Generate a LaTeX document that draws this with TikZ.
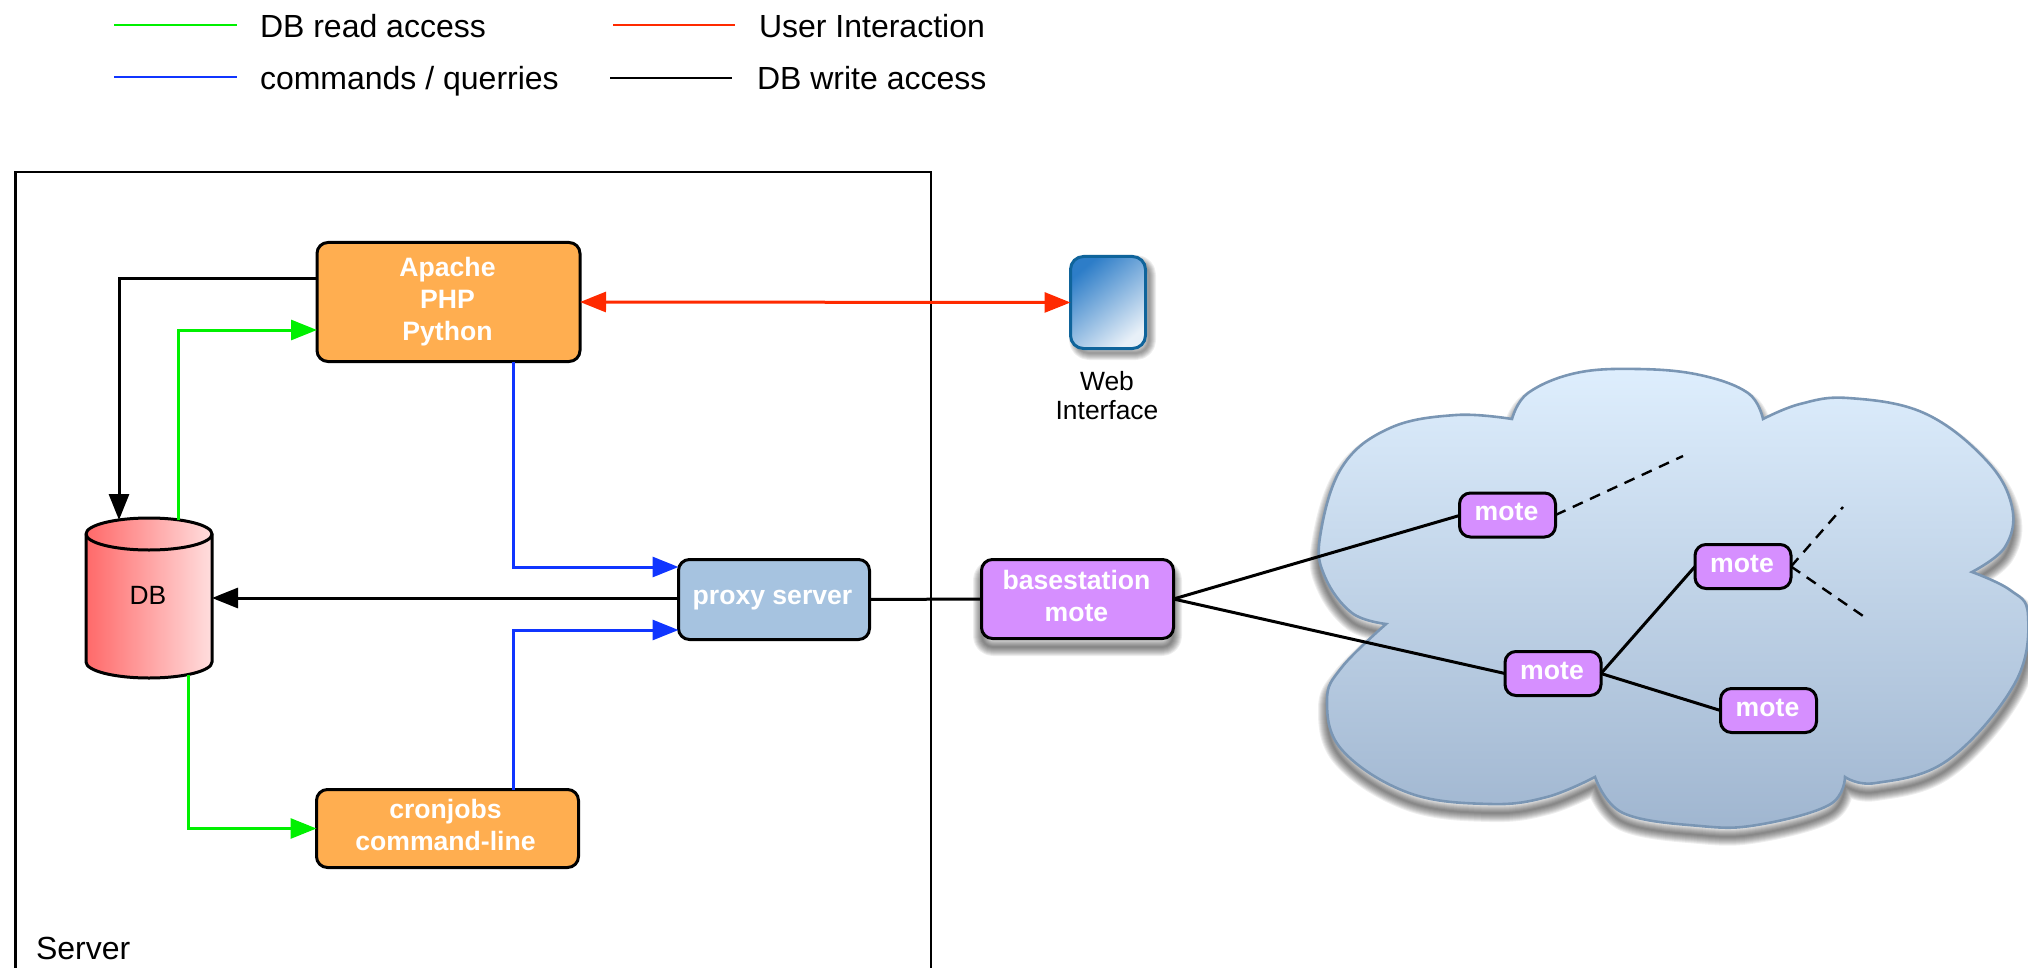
\documentclass[tikz,border=0pt]{standalone}
\usepackage{fontspec}
\setmainfont{Liberation Sans}
\usetikzlibrary{arrows.meta,calc}
\definecolor{cgreen}{HTML}{00F000}
\definecolor{cblue}{HTML}{1035FF}
\definecolor{cred}{HTML}{FF2A00}
\definecolor{corange}{HTML}{FFAE50}
\definecolor{cproxy}{HTML}{A6C3E0}
\definecolor{cmote}{HTML}{D68FFF}
\definecolor{cloudedge}{HTML}{7A96B4}
\newcommand{\softshadow}[3]{%
  \begin{scope}[shift={#1}]
    \foreach \w in {#3}
      \draw[black,draw opacity=0.065,line width=\w pt,line join=round] #2;
  \end{scope}}
\newcommand{\cloudpath}{(1512,419) -- plot[smooth,tension=0.65] coordinates {(1512,419)(1528,393)(1576,373)(1638,369)(1700,375)(1748,393)(1763,419)}
 -- plot[smooth,tension=0.65] coordinates {(1763,419)(1800,404)(1848,398)(1924,413)(1986,460)(2012,507)(2005,547)(1972,572)}
 -- plot[smooth,tension=0.65] coordinates {(1972,572)(2010,590)(2028,615)(2015,683)(1948,760)(1876,783)(1845,777)}
 -- plot[smooth,tension=0.65] coordinates {(1845,777)(1829,805)(1757,825)(1700,826)(1623,813)(1595,777)}
 -- plot[smooth,tension=0.65] coordinates {(1595,777)(1547,797)(1490,804)(1409,793)(1342,750)(1327,700)(1342,667)(1386,624)}
 -- plot[smooth,tension=0.65] coordinates {(1386,624)(1352,613)(1325,577)(1320,537)(1342,467)(1390,428)(1456,415)(1512,419)} -- cycle}
\tikzset{
  plain/.style={font=\fontsize{26.4}{29}\selectfont,align=center,inner sep=0pt,outer sep=0pt,text=black},
  bigtext/.style={font=\fontsize{32}{36}\selectfont,inner sep=0pt,outer sep=0pt,text=black,anchor=base west},
  boxtext/.style={align=center,inner sep=0pt,outer sep=0pt,text=white,font=\fontsize{26.6}{32}\selectfont\bfseries},
  boxbase/.style={draw=black,line width=3pt,rounded corners=11pt,inner sep=0pt,outer sep=0pt},
  orangebox/.style={boxbase,fill=corange},
  proxybox/.style={boxbase,fill=cproxy,minimum width=191pt,minimum height=80pt},
  motebox/.style={boxbase,fill=cmote,minimum width=96pt,minimum height=44pt,
    label={[boxtext,xshift=-1pt,yshift=3pt]center:mote}},
  conn/.style={line width=3pt},
  legendline/.style={line width=2.4pt},
  arrowc/.style={conn,-{Triangle[length=26pt,width=20pt]}},
  dashc/.style={line width=2.4pt,dash pattern=on 11pt off 8pt},
}
\begin{document}
\begin{tikzpicture}[x=1pt,y=-1pt]
\useasboundingbox (0,0) rectangle (2028,968);
% legend
\coordinate (l1a) at (114,25); \coordinate (l1b) at (237,25);
\coordinate (l2a) at (613,25); \coordinate (l2b) at (735,25);
\coordinate (l3a) at (114,77); \coordinate (l3b) at (237,77);
\coordinate (l4a) at (610,78); \coordinate (l4b) at (732,78);
\draw[legendline,cgreen] (l1a) -- (l1b);
\draw[legendline,cred] (l2a) -- (l2b);
\draw[legendline,cblue] (l3a) -- (l3b);
\draw[legendline,black] (l4a) -- (l4b);
\node[bigtext] (t1) at (260,37.5) {DB read access};
\node[bigtext] (t2) at (759,37.5) {User Interaction};
\node[bigtext] (t3) at (260,89.5) {commands / querries};
\node[bigtext] (t4) at (757,89.5) {DB write access};
% server frame
\draw[line width=2.6pt,black] (15.5,968) -- (15.5,172) -- (931,172) -- (931,968);
\node[bigtext] (server) at (36,959) {Server};
% cloud
\softshadow{(0,9)}{\cloudpath}{18,16,14,12,10,8,6,4,2}
\path[draw=cloudedge,line width=2.6pt,
  top color={rgb,255:red,222;green,238;blue,253},bottom color={rgb,255:red,160;green,182;blue,208}] \cloudpath;
% DB
\node[minimum width=126pt,minimum height=160pt,inner sep=0pt,outer sep=0pt] (dbshape) at (149,598) {};
\path[draw=black,line width=3pt,left color={rgb,255:red,255;green,105;blue,105},right color={rgb,255:red,255;green,222;blue,222}]
  (86,534) -- (86,662) arc[start angle=180,end angle=0,x radius=63,y radius=16] -- (212,534) arc[start angle=0,end angle=-180,x radius=63,y radius=16] -- cycle;
\draw[black,line width=3pt] (86,534) arc[start angle=180,end angle=0,x radius=63,y radius=16];
\node[plain] (db) at (148,595.5) {DB};
% boxes
\node[orangebox,minimum width=263pt,minimum height=119pt,
  label={[boxtext,xshift=-1pt]center:{Apache\\PHP\\Python}}] (apache) at (448.5,302) {};
\node[orangebox,minimum width=262pt,minimum height=78pt,
  label={[boxtext,xshift=-2pt,yshift=4pt]center:{cronjobs\\command-line}}] (cron) at (447.5,828.5) {};
\node[proxybox,label={[boxtext,xshift=-1.5pt,yshift=-1pt]center:proxy server}] (proxy) at (774,599.5) {};
% web
\softshadow{(4,5)}{[rounded corners=13pt] (1072,257) rectangle (1145,348)}{14,12,10,8,6,4,2}
\node[minimum width=75pt,minimum height=92pt,inner sep=0pt,outer sep=0pt,rounded corners=13pt,draw={rgb,255:red,15;green,100;blue,155},line width=3pt,
  left color={rgb,255:red,45;green,125;blue,200},right color={rgb,255:red,232;green,240;blue,248},shading angle=40] (web) at (1108,302.5) {};
\node[plain,anchor=north] (weblabel) at (1107,371) {Web\\Interface};
% basestation
\softshadow{(0,9)}{[rounded corners=11pt] (982,560) rectangle (1173,638)}{18,16,14,12,10,8,6,4,2}
\node[boxbase,fill=cmote,minimum width=192pt,minimum height=79pt,
  label={[boxtext,xshift=-1pt,yshift=3pt]center:{basestation\\mote}}] (base) at (1077.5,599) {};
% motes
\node[motebox] (m1) at (1507.5,515) {};
\node[motebox] (m2) at (1743,566.5) {};
\node[motebox] (m3) at (1553,673.5) {};
\node[motebox] (m4) at (1768.5,710.5) {};
\coordinate (d1) at (1683,456);
\coordinate (d2) at (1843,507);
\coordinate (d3) at (1866,618);
% connectors
\draw[arrowc,black] ([yshift=24pt]apache.west) -| ([xshift=-30pt,yshift=-2pt]dbshape.north);
\draw[arrowc,cgreen] ([xshift=29.5pt,yshift=-2pt]dbshape.north) |- ([yshift=-28pt]apache.west);
\draw[arrowc,cgreen] ([xshift=39pt,yshift=3pt]dbshape.south) |- (cron.west);
\draw[arrowc,cblue] ([xshift=65pt]apache.south) |- ([yshift=32.5pt]proxy.west);
\draw[arrowc,cblue] ([xshift=66pt]cron.north) |- ([yshift=-30.5pt]proxy.west);
\draw[arrowc,black] ([yshift=1.5pt]proxy.west) -- ([yshift=1.5pt]proxy.west -| dbshape.east);
\draw[conn,cred,{Triangle[length=26pt,width=20pt]}-{Triangle[length=26pt,width=20pt]}] (apache.east) -- (web.west);
\draw[conn,black] (proxy.east) -- (base.west);
\draw[conn,black] (base.east) -- ([yshift=-0.5pt]m1.west);
\draw[conn,black] (base.east) -- (m3.west);
\draw[conn,black] (m3.east) -- (m2.west);
\draw[conn,black] (m3.east) -- (m4.west);
\draw[dashc,black] (m1.east) -- (d1);
\draw[dashc,black] (m2.east) -- (d2);
\draw[dashc,black] (m2.east) -- (d3);
\end{tikzpicture}
\end{document}
